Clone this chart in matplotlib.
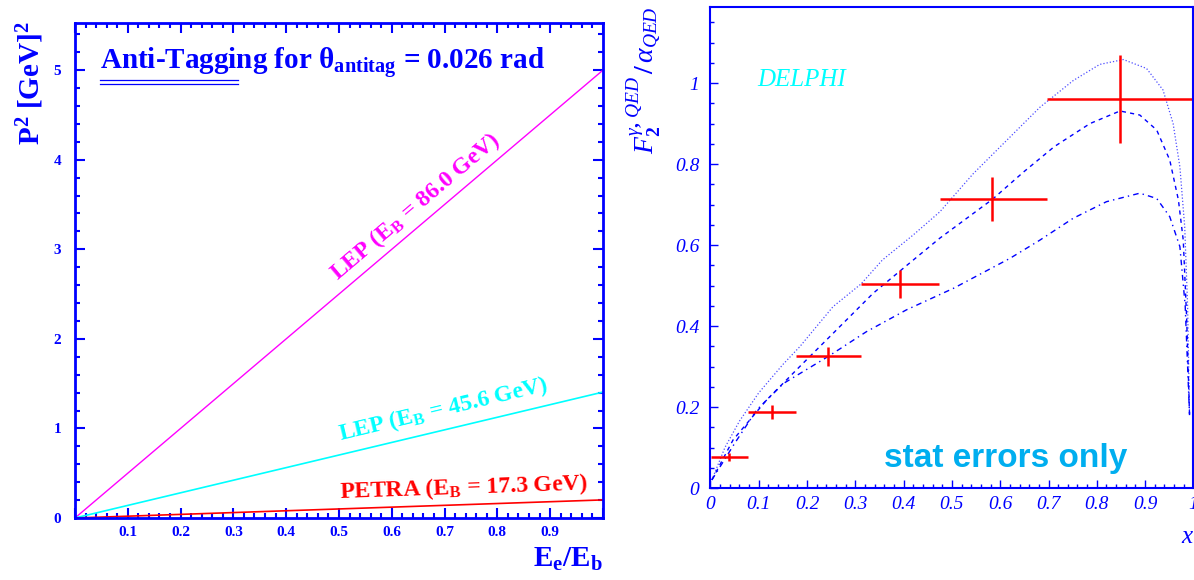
import numpy as np
import matplotlib
matplotlib.use("Agg")
import matplotlib.pyplot as plt
from matplotlib.ticker import MultipleLocator, FixedLocator, FixedFormatter

plt.rcParams['mathtext.fontset'] = 'custom'
plt.rcParams['mathtext.rm'] = 'Liberation Serif:bold'
plt.rcParams['mathtext.bf'] = 'Liberation Serif:bold'
plt.rcParams['mathtext.it'] = 'Liberation Serif:italic'

# ---- left panel: P^2 vs Ee/Eb for anti-tagging
frac = [0.0, 1.0]
p2_lep86 = [0.0, 5.00]
p2_lep46 = [0.0, 1.406]
p2_petra = [0.0, 0.202]
left_xticks = [0.1, 0.2, 0.3, 0.4, 0.5, 0.6, 0.7, 0.8, 0.9]
left_yticks = [0, 1, 2, 3, 4, 5]

# ---- right panel: DELPHI F2 QED points
x_pts = [0.039, 0.128, 0.244, 0.392, 0.584, 0.848]
x_lo = [0.002, 0.077, 0.178, 0.311, 0.475, 0.696]
x_hi = [0.077, 0.178, 0.311, 0.474, 0.696, 1.0]
f2_pts = [0.0765, 0.188, 0.325, 0.504, 0.713, 0.960]
f2_err = [0.011, 0.017, 0.024, 0.035, 0.054, 0.108]

# curves
dot_x = [0.003, 0.03, 0.06, 0.10, 0.15, 0.185, 0.254, 0.312, 0.356, 0.42, 0.475, 0.544,
         0.613, 0.682, 0.751, 0.806, 0.855, 0.903, 0.937, 0.958, 0.972, 0.982, 0.988, 0.992]
dot_y = [0.02, 0.10, 0.165, 0.235, 0.305, 0.349, 0.448, 0.504, 0.563, 0.625, 0.682, 0.776,
         0.858, 0.94, 1.006, 1.046, 1.058, 1.036, 0.983, 0.90, 0.793, 0.645, 0.45, 0.18]
dash_x = [0.003, 0.047, 0.116, 0.185, 0.254, 0.337, 0.42, 0.475, 0.584, 0.648, 0.712,
          0.786, 0.848, 0.889, 0.924, 0.951, 0.969, 0.979, 0.986, 0.992]
dash_y = [0.02, 0.119, 0.217, 0.30, 0.382, 0.481, 0.563, 0.617, 0.713, 0.78, 0.843,
          0.90, 0.931, 0.921, 0.884, 0.81, 0.711, 0.612, 0.42, 0.18]
dd_x = [0.003, 0.05, 0.096, 0.151, 0.244, 0.323, 0.406, 0.503, 0.62, 0.682, 0.751,
        0.82, 0.889, 0.924, 0.951, 0.972, 0.983, 0.992]
dd_y = [0.02, 0.11, 0.193, 0.258, 0.325, 0.386, 0.44, 0.493, 0.567, 0.612, 0.666,
        0.707, 0.728, 0.715, 0.67, 0.596, 0.45, 0.18]
right_xticks = [0, 0.1, 0.2, 0.3, 0.4, 0.5, 0.6, 0.7, 0.8, 0.9, 1.0]
right_xlabels = ['0', '0.1', '0.2', '0.3', '0.4', '0.5', '0.6', '0.7', '0.8', '0.9', '1']
right_yticks = [0, 0.2, 0.4, 0.6, 0.8, 1.0]
right_ylabels = ['0', '0.2', '0.4', '0.6', '0.8', '1']

blue = '#0000ff'
serif = 'Liberation Serif'

fig = plt.figure(figsize=(11.94, 5.80), dpi=100)

# ================= left
ax = fig.add_axes([0.0628, 0.1069, 0.4422, 0.854])
ax.plot(frac, p2_lep86, color='#ff00ff', lw=1.0)
ax.plot(frac, p2_lep46, color='#00ffff', lw=1.2)
ax.plot(frac, p2_petra, color='#ff0000', lw=1.2)
ax.set_xlim(0, 1)
ax.set_ylim(0, 5.53)
for s in ax.spines.values():
    s.set_color(blue)
    s.set_linewidth(2)
ax.xaxis.set_major_locator(FixedLocator([0] + left_xticks + [1.0]))
ax.xaxis.set_major_formatter(FixedFormatter([''] + ['%.1f' % v for v in left_xticks] + ['']))
ax.xaxis.set_minor_locator(MultipleLocator(0.02))
ax.yaxis.set_major_locator(FixedLocator(left_yticks))
ax.yaxis.set_minor_locator(MultipleLocator(0.2))
ax.tick_params(which='both', direction='in', top=True, right=True, color=blue, width=1.5,
               labelcolor=blue)
ax.tick_params(which='major', length=7.2)
ax.tick_params(which='minor', length=3.6)
ax.tick_params(axis='x', pad=6)
ax.tick_params(axis='y', pad=10)
for lab in ax.get_xticklabels() + ax.get_yticklabels():
    lab.set_fontfamily(serif)
    lab.set_fontweight('bold')
    lab.set_fontsize(11)

ax.text(0.047, 0.9045, r'Anti-Tagging for $\mathrm{θ_{antitag}}$ = 0.026 rad', transform=ax.transAxes,
        ha='left', va='baseline', fontsize=21, fontweight='bold', fontfamily=serif, color=blue)
ax.plot([0.047, 0.309], [0.884, 0.884], transform=ax.transAxes, color=blue, lw=0.9, clip_on=False)
ax.plot([0.047, 0.309], [0.876, 0.876], transform=ax.transAxes, color=blue, lw=0.9, clip_on=False)


def line_angle(a, yv):
    p0 = a.transData.transform((frac[0], yv[0]))
    p1 = a.transData.transform((frac[1], yv[1]))
    return np.degrees(np.arctan2(p1[1] - p0[1], p1[0] - p0[0]))


labels = [('LEP (E$_\\mathrm{B}$ = 86.0 GeV)', p2_lep86, '#ff00ff', 0.644, 3.48),
          ('LEP (E$_\\mathrm{B}$ = 45.6 GeV)', p2_lep46, '#00ffff', 0.697, 1.206),
          ('PETRA (E$_\\mathrm{B}$ = 17.3 GeV)', p2_petra, '#ff0000', 0.737, 0.335)]
for txt, yv, col, tx, ty in labels:
    ax.text(tx, ty, txt, rotation=line_angle(ax, yv), rotation_mode='anchor', ha='center', va='center',
            fontsize=17, fontweight='bold', fontfamily=serif, color=col)

fig.text(30 / 1194, 1 - 83 / 580, r'P$^\mathrm{2}$ [GeV]$^\mathrm{2}$', rotation=90, ha='center', va='center',
         fontsize=21, fontweight='bold', fontfamily=serif, color=blue)
fig.text(603 / 1194, 1 - 567 / 580, r'E$_\mathrm{e}$/E$_\mathrm{b}$', ha='right', va='baseline',
         fontsize=21, fontweight='bold', fontfamily=serif, color=blue)

# ================= right
ax2 = fig.add_axes([0.595, 0.1586, 0.4045, 0.8288])
ax2.plot(dot_x, dot_y, color=blue, lw=0.9, ls=(0, (1, 1.6)), alpha=0.7)
ax2.plot(dash_x, dash_y, color=blue, lw=1.0, ls=(0, (3, 3)))
ax2.plot(dd_x, dd_y, color=blue, lw=1.0, ls=(0, (4, 3, 1, 3)))
xe = [np.array(x_pts) - np.array(x_lo), np.array(x_hi) - np.array(x_pts)]
ax2.errorbar(x_pts, f2_pts, xerr=xe, yerr=f2_err, fmt='none', ecolor='#ff0000', elinewidth=1.8,
             capsize=0, clip_on=False)
ax2.set_xlim(0, 1)
ax2.set_ylim(0, 1.187)
for s in ax2.spines.values():
    s.set_color(blue)
    s.set_linewidth(1.5)
ax2.xaxis.set_major_locator(FixedLocator(right_xticks))
ax2.xaxis.set_major_formatter(FixedFormatter(right_xlabels))
ax2.xaxis.set_minor_locator(MultipleLocator(0.02))
ax2.yaxis.set_major_locator(FixedLocator(right_yticks))
ax2.yaxis.set_major_formatter(FixedFormatter(right_ylabels))
ax2.yaxis.set_minor_locator(MultipleLocator(0.05))
ax2.tick_params(which='both', direction='in', color=blue, width=1.0, labelcolor=blue)
ax2.tick_params(which='major', length=5.8)
ax2.tick_params(which='minor', length=2.8)
ax2.tick_params(axis='x', pad=6)
ax2.tick_params(axis='y', pad=8)
for lab in ax2.get_xticklabels() + ax2.get_yticklabels():
    lab.set_fontfamily(serif)
    lab.set_fontstyle('italic')
    lab.set_fontsize(14)

ax2.text(0.098, 0.836, 'DELPHI', transform=ax2.transAxes, ha='left', va='baseline',
         fontsize=18, fontstyle='italic', fontfamily=serif, color='#00ffff')
ax2.text(0.612, 0.0443, 'stat errors only', transform=ax2.transAxes, ha='center', va='baseline',
         fontsize=24, fontweight='bold', fontfamily='Liberation Sans', color='#00aeef')
fig.text(1187 / 1194, 1 - 537 / 580, 'x', ha='center', va='center', fontsize=18,
         fontstyle='italic', fontfamily=serif, color=blue)
fig.text(645 / 1194, 1 - 80 / 580,
         r'$\mathit{F}_{\mathit{2}}^{γ,\,\mathit{QED}}\,\mathit{/}\,α_{\mathit{QED}}$',
         rotation=90, ha='center', va='center', fontsize=20, color=blue)

fig.savefig('out.png', dpi=100)
